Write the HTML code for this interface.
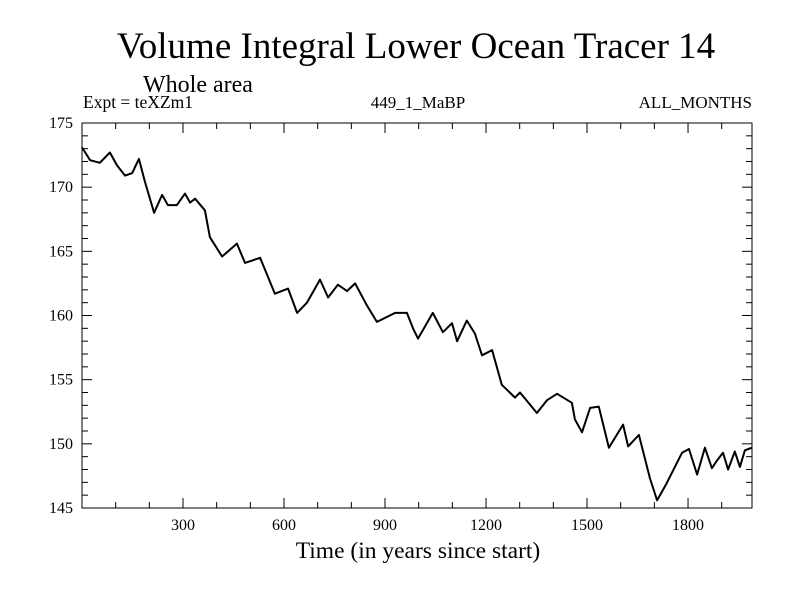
<!DOCTYPE html>
<html><head><meta charset="utf-8"><style>
body{margin:0;background:#fff}
svg text{font-family:"Liberation Serif",serif;fill:#000}
</style></head><body>
<svg id="chart" width="800" height="600" xmlns="http://www.w3.org/2000/svg">
<rect width="800" height="600" fill="#fff"/>
<text x="416" y="58" font-size="37" text-anchor="middle">Volume Integral Lower Ocean Tracer 14</text>
<text x="143" y="92" font-size="24">Whole area</text>
<text x="83" y="108" font-size="17.5">Expt = teXZm1</text>
<text x="418" y="108" font-size="17" text-anchor="middle">449_1_MaBP</text>
<text x="752" y="108" font-size="17" text-anchor="end">ALL_MONTHS</text>
<text x="418" y="558" font-size="23.5" text-anchor="middle">Time (in years since start)</text>
<g id="axes"></g>
<path id="series" fill="none" stroke="#000" stroke-width="2" stroke-linejoin="round"/>
<rect x="82" y="123" width="670" height="385" fill="none" stroke="#000" stroke-width="1"/>
</svg>
<script>
const years=[0,24,53,83,104,128,149,169,187,214,238,255,282,306,321,336,365,380,416,460,484,529,573,612,639,668,707,731,760,787,811,846,876,930,965,983,998,1042,1072,1099,1114,1143,1167,1188,1218,1247,1286,1301,1351,1381,1411,1455,1464,1485,1509,1535,1565,1607,1622,1654,1687,1708,1734,1782,1803,1827,1850,1871,1886,1904,1919,1939,1954,1969,1990];
const values=[173.1,172.1,171.9,172.7,171.7,170.9,171.1,172.2,170.4,168.0,169.4,168.6,168.6,169.5,168.8,169.1,168.2,166.1,164.6,165.6,164.1,164.5,161.7,162.1,160.2,161.0,162.8,161.4,162.4,161.9,162.5,160.8,159.5,160.2,160.2,159.0,158.2,160.2,158.7,159.4,158.0,159.6,158.6,156.9,157.3,154.6,153.6,154.0,152.4,153.4,153.9,153.2,151.9,150.9,152.8,152.9,149.7,151.5,149.8,150.7,147.3,145.6,146.8,149.3,149.6,147.6,149.7,148.1,148.7,149.3,148.0,149.4,148.2,149.5,149.7];
const xTicks=[300,600,900,1200,1500,1800];
const yTicks=[145,150,155,160,165,170,175];
const X0=82,X1=752,Y0=508,Y1=123,XMIN=0,XMAX=1990,YMIN=145,YMAX=175;
const sx=v=>X0+(v-XMIN)/(XMAX-XMIN)*(X1-X0);
const sy=v=>Y0-(v-YMIN)/(YMAX-YMIN)*(Y0-Y1);
const NS="http://www.w3.org/2000/svg";
const axes=document.getElementById('axes');
function line(x1,y1,x2,y2){const l=document.createElementNS(NS,'line');l.setAttribute('x1',x1);l.setAttribute('y1',y1);l.setAttribute('x2',x2);l.setAttribute('y2',y2);l.setAttribute('stroke','#000');l.setAttribute('stroke-width','1');axes.appendChild(l);return l;}
for(let v=100;v<XMAX;v+=100){const x=sx(v);const L=(v%300===0)?10:6;
const a=line(x,Y0,x,Y0-L);


const b=line(x,Y1,x,Y1+L);

}
for(let v=YMIN+1;v<YMAX;v+=1){const y=sy(v);const L=(v%5===0)?10:6;
const a=line(X0,y,X0+L,y);


const b=line(X1,y,X1-L,y);

}
xTicks.forEach(v=>{const t=document.createElementNS(NS,'text');t.setAttribute('x',sx(v));t.setAttribute('y',Y0+22);t.setAttribute('font-size','16');t.setAttribute('text-anchor','middle');t.textContent=v;


axes.appendChild(t);});
yTicks.forEach(v=>{const t=document.createElementNS(NS,'text');t.setAttribute('x',X0-9);t.setAttribute('y',sy(v)+5);t.setAttribute('font-size','16');t.setAttribute('text-anchor','end');t.textContent=v;


axes.appendChild(t);});
document.getElementById('series').setAttribute('d',years.map((y,i)=>(i?'L':'M')+sx(y).toFixed(1)+','+sy(values[i]).toFixed(1)).join(''));
</script>
</body></html>
